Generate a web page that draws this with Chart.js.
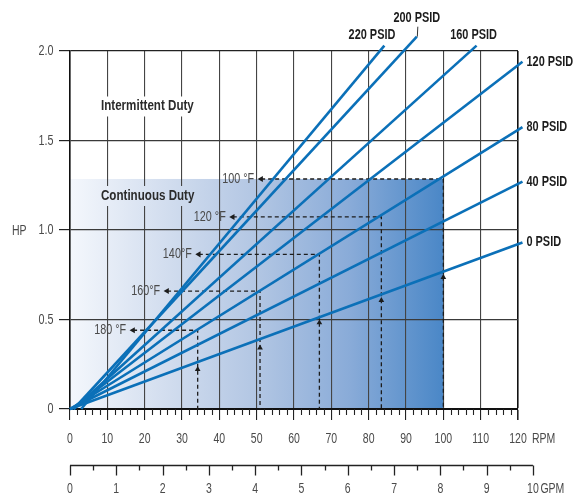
<!DOCTYPE html>
<html>
<head>
<meta charset="utf-8">
<title>HP vs RPM</title>
<script src="https://cdn.jsdelivr.net/npm/chart.js@4.4.1/dist/chart.umd.min.js"></script>
<style>
  html, body { margin: 0; padding: 0; background: #fff; }
  #wrap { width: 574px; height: 498px; }
</style>
</head>
<body>
<div id="wrap"><canvas id="chart" width="574" height="498"></canvas></div>
<script>
// ----- Data -----
const psidLabels   = ['220 PSID', '200 PSID', '160 PSID', '120 PSID', '80 PSID', '40 PSID', '0 PSID'];
const psidStartRpm = [3, 1, 1, 0.5, 0, 0, 0];
const psidEndRpm   = [84.2, 92.9, 108.9, 121.2, 121.2, 121.2, 121.2];
const psidEndHp    = [2.03, 2.08, 2.03, 1.94, 1.575, 1.27, 0.93];

const tempLabels   = ['100 °F', '120 °F', '140°F', '160°F', '180 °F'];
const tempRpm      = [100, 83.4, 66.8, 50.9, 34.2];
const tempHp       = [1.285, 1.073, 0.864, 0.659, 0.44];
const tempArrowRpm = [51.2, 43.6, 34.5, 26.0, 16.9];
const markerHp     = [0.736, 0.607, 0.482, 0.342, 0.222];

const dutyLabels = ['Intermittent Duty', 'Continuous Duty'];
const dutyRpm    = [8.3, 8.3];
const dutyHp     = [1.69, 1.19];

const gpmTicks  = [0, 1, 2, 3, 4, 5, 6, 7, 8, 9, 10];
const rpmPerGpm = 12.4;   // 10 GPM sits a bit past 120 RPM

// ----- Style -----
const FONT  = "'Liberation Sans', Arial, sans-serif";
const BLUE  = '#0b70b8';
const INK   = '#1c1c1c';
const GREY  = '#4a4a4a';
const REG   = `15px ${FONT}`;
const SQ    = 0.7;    // horizontal squeeze to mimic the condensed face

function shade(ctx, x0, x1) {
  const g = ctx.createLinearGradient(x0, 0, x1, 0);
  g.addColorStop(0, '#f4f7fc');
  g.addColorStop(0.25, '#d3deef');
  g.addColorStop(0.5, '#b2c6e3');
  g.addColorStop(0.75, '#89abd8');
  g.addColorStop(1, '#4a87c7');
  return g;
}

// condensed text: draw with a horizontal scale, return drawn width
function squeeze(ctx, text, px, py, align, font, sx) {
  ctx.save();
  ctx.font = font;
  const w = ctx.measureText(text).width * sx;
  const left = align === 'right' ? px - w : align === 'center' ? px - w / 2 : px;
  ctx.translate(left, py);
  ctx.scale(sx, 1);
  ctx.textAlign = 'left';
  ctx.textBaseline = 'middle';
  ctx.fillText(text, 0, 0);
  ctx.restore();
  return w;
}

// label placement next to line ends (pixels)
const psidPlace = [
  {align: 'right',  dx: 11,  dy: -10},
  {align: 'center', dx: 0,   dy: -19},
  {align: 'center', dx: -3,  dy: -10},
  {align: 'left',   dx: 4,   dy: 0},
  {align: 'left',   dx: 4,   dy: 0},
  {align: 'left',   dx: 4,   dy: 0},
  {align: 'left',   dx: 4,   dy: 0}
];

const decor = {
  id: 'decor',
  beforeDraw(chart) {
    const {ctx, scales: {x, y}} = chart;
    const x0 = x.getPixelForValue(0), x1 = x.getPixelForValue(tempRpm[0]);
    const y0 = y.getPixelForValue(0), y1 = y.getPixelForValue(tempHp[0]);
    ctx.save();
    ctx.fillStyle = shade(ctx, x0, x1);
    ctx.fillRect(x0, y1, x1 - x0, y0 - y1);
    ctx.restore();
  },
  afterDatasetsDraw(chart) {
    const {ctx, chartArea, scales: {x, y}} = chart;
    const bx0 = x.getPixelForValue(0), bx1 = x.getPixelForValue(tempRpm[0]);
    const yb = chartArea.bottom;
    ctx.save();

    // duty labels, with a knock-out behind them
    const dutyFont = `bold 14.5px ${FONT}`;
    dutyLabels.forEach((t, i) => {
      const px = x.getPixelForValue(dutyRpm[i]);
      const py = y.getPixelForValue(dutyHp[i]);
      ctx.font = dutyFont;
      const w = ctx.measureText(t).width * 0.8;
      ctx.fillStyle = dutyHp[i] < tempHp[0] ? shade(ctx, bx0, bx1) : '#fff';
      ctx.fillRect(px - 3, py - 10, w + 6, 20);
      ctx.fillStyle = '#2b2b2b';
      squeeze(ctx, t, px, py, 'left', dutyFont, 0.8);
    });

    // PSID labels
    ctx.fillStyle = INK;
    psidLabels.forEach((t, i) => {
      const px = x.getPixelForValue(psidEndRpm[i]);
      const py = y.getPixelForValue(psidEndHp[i]);
      const p = psidPlace[i];
      squeeze(ctx, t, px + p.dx, py + p.dy, p.align, `bold 14px ${FONT}`, 0.78);
      if (i === 1) {           // leader for 200 PSID
        ctx.strokeStyle = '#333';
        ctx.lineWidth = 1;
        ctx.beginPath();
        ctx.moveTo(px + 0.5, py);
        ctx.lineTo(px + 1, py - 10);
        ctx.stroke();
      }
    });

    // temperature labels
    ctx.fillStyle = GREY;
    tempLabels.forEach((t, i) => {
      squeeze(ctx, t, x.getPixelForValue(tempArrowRpm[i]) - 7, y.getPixelForValue(tempHp[i]), 'right', REG, 0.72);
    });

    // tick labels from the library's ticks
    x.ticks.forEach((tk, i) => squeeze(ctx, String(tk.label), x.getPixelForTick(i), yb + 29.5, 'center', REG, SQ));
    y.ticks.forEach((tk, i) => squeeze(ctx, String(tk.label), 53.5, y.getPixelForTick(i), 'right', REG, 0.72));

    // minor RPM ticks
    ctx.strokeStyle = '#222';
    ctx.lineWidth = 1.1;
    for (let r = 2; r < 120; r += 2) {
      if (r % 10 === 0) continue;
      const px = Math.round(x.getPixelForValue(r)) + 0.5;
      ctx.beginPath();
      ctx.moveTo(px, yb);
      ctx.lineTo(px, yb + 6);
      ctx.stroke();
    }

    // axis words
    squeeze(ctx, 'RPM', x.getPixelForValue(120) + 14, yb + 29.5, 'left', REG, SQ);
    squeeze(ctx, 'HP', 12, y.getPixelForValue(1) + 1, 'left', REG, SQ);

    // GPM axis
    const gy = yb + 56.5;
    const gx = v => x.getPixelForValue(v * rpmPerGpm);
    ctx.strokeStyle = '#222';
    ctx.lineWidth = 1.3;
    ctx.beginPath();
    ctx.moveTo(gx(0), gy);
    ctx.lineTo(gx(10), gy);
    ctx.stroke();
    for (let k = 0; k <= 20; k++) {
      const px = Math.round(gx(k / 2)) + 0.5;
      ctx.beginPath();
      ctx.moveTo(px, gy);
      ctx.lineTo(px, gy + (k % 2 ? 5 : 10));
      ctx.stroke();
    }
    gpmTicks.forEach(g => squeeze(ctx, String(g), gx(g), gy + 23, 'center', REG, SQ));
    squeeze(ctx, 'GPM', gx(10) + 7.5, gy + 23, 'left', REG, SQ);

    ctx.restore();
  }
};

// ----- Datasets -----
const psidSets = psidLabels.map((l, i) => ({
  label: l,
  data: [{x: psidStartRpm[i], y: 0}, {x: psidEndRpm[i], y: psidEndHp[i]}],
  showLine: true,
  borderColor: BLUE,
  borderWidth: 2.6,
  pointRadius: 0,
  clip: false
}));

const tempSets = tempLabels.map((l, i) => ({
  label: l,
  data: [{x: tempArrowRpm[i], y: tempHp[i]}, {x: tempRpm[i], y: tempHp[i]}, {x: tempRpm[i], y: 0}],
  showLine: true,
  borderColor: INK,
  borderWidth: 1.3,
  borderDash: [4, 3],
  pointStyle: 'triangle',
  pointRotation: -90,
  pointRadius: c => c.dataIndex === 0 ? 3.5 : 0,
  pointBackgroundColor: INK,
  pointBorderWidth: 0
}));

const markerSet = {
  label: 'markers',
  data: tempRpm.map((r, i) => ({x: r, y: markerHp[i]})),
  pointStyle: 'triangle',
  pointRadius: 3.3,
  pointBackgroundColor: INK,
  pointBorderWidth: 0
};

new Chart(document.getElementById('chart'), {
  type: 'scatter',
  data: { datasets: [...psidSets, ...tempSets, markerSet] },
  options: {
    responsive: false,
    animation: false,
    layout: { padding: { top: 51, right: 56, left: 0, bottom: 0 } },
    plugins: { legend: { display: false }, tooltip: { enabled: false } },
    scales: {
      x: {
        type: 'linear', min: 0, max: 120,
        afterFit: s => { s.height = 89; },
        ticks: { display: false, stepSize: 10, autoSkip: false, maxRotation: 0 },
        grid: {
          color: c => c.tick && c.tick.value === 120 ? '#111' : '#444',
          lineWidth: c => c.tick && c.tick.value === 120 ? 1.6 : 1.1,
          tickColor: '#222', tickLength: 11
        },
        border: { color: '#111', width: 2 }
      },
      y: {
        min: 0, max: 2,
        afterFit: s => { s.width = 70; },
        ticks: { display: false, stepSize: 0.5,
                 callback: v => v === 0 ? '0' : Number(v).toFixed(1) },
        grid: {
          color: c => c.tick && c.tick.value === 2 ? '#222' : '#3a3a3a',
          lineWidth: 1.2,
          tickColor: '#222', tickLength: 11
        },
        border: { color: '#111', width: 1.6 }
      }
    }
  },
  plugins: [decor]
});
</script>
</body>
</html>
